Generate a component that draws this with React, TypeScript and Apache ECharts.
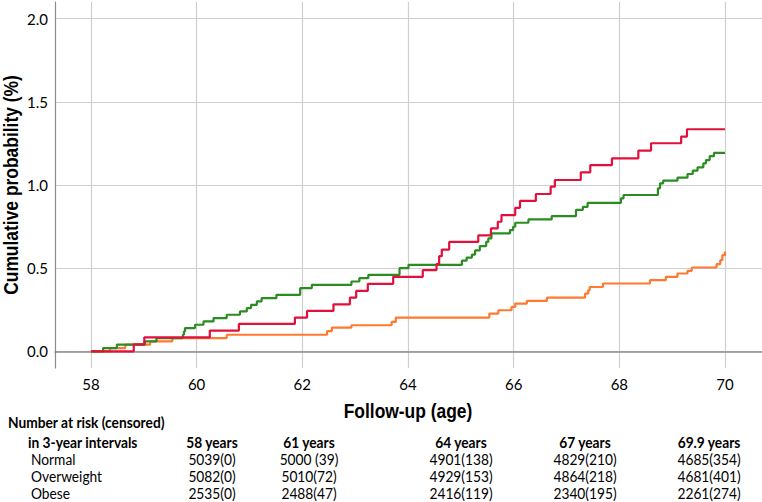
import React, { useEffect, useRef } from "react";
import * as echarts from "echarts";

// ---- Data ----
const redAges = [58.0, 58.81, 59.01, 60.25, 60.8, 61.86, 62.09, 62.59, 62.9, 63.02, 63.24, 63.72, 64.28, 64.54, 64.59, 64.64, 64.78, 65.33, 65.57, 65.7, 65.77, 66.03, 66.12, 66.42, 66.7, 66.78, 67.27, 67.45, 67.86, 68.36, 68.6, 69.17, 69.28, 70.0];
const redValues = [0, 0.042, 0.084, 0.125, 0.165, 0.203, 0.243, 0.283, 0.323, 0.363, 0.406, 0.448, 0.488, 0.524, 0.572, 0.612, 0.658, 0.697, 0.739, 0.779, 0.819, 0.863, 0.904, 0.946, 0.99, 1.03, 1.076, 1.12, 1.16, 1.207, 1.251, 1.291, 1.335, 1.335];

const greenAges = [58.0, 58.23, 58.49, 59.02, 59.24, 59.74, 59.76, 59.78, 59.97, 60.13, 60.32, 60.57, 60.82, 60.95, 61.03, 61.14, 61.23, 61.51, 61.96, 62.18, 62.93, 63.08, 63.25, 63.84, 64.01, 65.02, 65.11, 65.21, 65.27, 65.36, 65.48, 65.52, 65.58, 65.93, 65.99, 66.03, 66.28, 66.72, 67.18, 67.31, 67.4, 68.03, 68.08, 68.73, 68.77, 68.83, 69.1, 69.29, 69.39, 69.48, 69.59, 69.64, 69.71, 69.79, 70.0];
const greenValues = [0, 0.02, 0.04, 0.06, 0.08, 0.1, 0.12, 0.14, 0.16, 0.18, 0.2, 0.22, 0.24, 0.26, 0.28, 0.3, 0.32, 0.34, 0.38, 0.4, 0.42, 0.44, 0.46, 0.5, 0.52, 0.545, 0.564, 0.582, 0.607, 0.633, 0.658, 0.679, 0.709, 0.729, 0.749, 0.773, 0.793, 0.813, 0.851, 0.869, 0.893, 0.92, 0.94, 0.98, 1.01, 1.026, 1.044, 1.066, 1.086, 1.106, 1.13, 1.15, 1.173, 1.193, 1.193];

const orangeAges = [58.0, 58.36, 58.65, 59.12, 59.54, 60.57, 62.47, 62.56, 62.93, 63.69, 63.77, 65.54, 65.71, 65.96, 66.03, 66.25, 66.63, 67.35, 67.41, 67.44, 67.69, 68.58, 68.88, 69.1, 69.29, 69.37, 69.84, 69.91, 69.95, 70.0];
const orangeValues = [0, 0.02, 0.04, 0.06, 0.08, 0.1, 0.122, 0.143, 0.157, 0.177, 0.203, 0.227, 0.247, 0.267, 0.287, 0.303, 0.323, 0.347, 0.367, 0.387, 0.408, 0.428, 0.448, 0.468, 0.484, 0.504, 0.524, 0.548, 0.578, 0.6];

const riskTitle = ["Number at risk (censored)", "in 3-year intervals"];
const riskTimepoints = ["58 years", "61 years", "64 years", "67 years", "69.9 years"];
const riskGroups = ["Normal", "Overweight", "Obese"];
const riskNormal = ["5039(0)", "5000 (39)", "4901(138)", "4829(210)", "4685(354)"];
const riskOverweight = ["5082(0)", "5010(72)", "4929(153)", "4864(218)", "4681(401)"];
const riskObese = ["2535(0)", "2488(47)", "2416(119)", "2340(195)", "2261(274)"];

const xAxisTitle = "Follow-up (age)";
const yAxisTitle = "Cumulative probability (%)";

// ---- Layout / style ----
const COL_X = [212, 309, 461, 585, 709];
const ROW_Y = [422, 442, 458.5, 475.5, 492.5];
const TABLE_FONT = "Lato, 'Open Sans', sans-serif";
const TITLE_FONT = "'Liberation Sans', Arial, sans-serif";
const NARROW = 0.83;
const TABLE_SQUEEZE = 0.86;

function zip(a: number[], b: number[]) {
  return a.map((x, i) => [x, b[i]]);
}

export default function App() {
  const ref = useRef<HTMLDivElement>(null);

  useEffect(() => {
    if (!ref.current) return;
    const chart = echarts.init(ref.current, undefined, { renderer: "svg" });

    const graphics: any[] = [];
    const txt = (text: string, x: number, y: number, align: string, bold: boolean) => ({
      type: "text",
      x,
      y,
      scaleX: TABLE_SQUEEZE,
      silent: true,
      style: {
        text,
        fill: "#000",
        fontFamily: TABLE_FONT,
        fontSize: 16,
        fontWeight: bold ? "bold" : "normal",
        align,
        verticalAlign: "middle",
      },
    });
    graphics.push(txt(riskTitle[0], 8, ROW_Y[0], "left", true));
    graphics.push(txt(riskTitle[1], 28, ROW_Y[1], "left", true));
    riskTimepoints.forEach((t, i) => graphics.push(txt(t, COL_X[i], ROW_Y[1], "center", true)));
    const rows = [riskNormal, riskOverweight, riskObese];
    riskGroups.forEach((g, r) => {
      graphics.push(txt(g, 31, ROW_Y[2 + r], "left", false));
      rows[r].forEach((v, i) => graphics.push(txt(v, COL_X[i], ROW_Y[2 + r], "center", false)));
    });

    // axis titles (condensed bold)
    graphics.push({
      type: "text",
      x: 408,
      y: 411,
      scaleX: NARROW,
      silent: true,
      style: {
        text: xAxisTitle,
        fill: "#000",
        fontFamily: TITLE_FONT,
        fontSize: 21,
        fontWeight: "bold",
        align: "center",
        verticalAlign: "middle",
      },
    });
    graphics.push({
      type: "text",
      x: 11,
      y: 185,
      rotation: Math.PI / 2,
      scaleX: NARROW,
      silent: true,
      style: {
        text: yAxisTitle,
        fill: "#000",
        fontFamily: TITLE_FONT,
        fontSize: 21,
        fontWeight: "bold",
        align: "center",
        verticalAlign: "middle",
      },
    });

    const lineSeries = (name: string, data: number[][], color: string) => ({
      name,
      type: "line",
      step: "end",
      data,
      showSymbol: false,
      symbol: "none",
      lineStyle: { color, width: 2.2 },
      itemStyle: { color },
      emphasis: { disabled: true },
    });

    chart.setOption({
      animation: false,
      grid: { left: 55, right: 0, top: 2, bottom: 134 },
      xAxis: {
        type: "value",
        min: 57.32,
        max: 70.7,
        minInterval: 2,
        maxInterval: 2,
        axisLine: { show: true, lineStyle: { color: "#8c8c8c", width: 1.5 } },
        axisTick: { show: false },
        axisLabel: {
          showMinLabel: false,
          showMaxLabel: false,
          margin: 8,
          color: "#000",
          fontFamily: TABLE_FONT,
          fontSize: 15,
          formatter: (v: number) => String(Math.round(v)),
        },
        splitLine: { show: true, showMinLine: false, showMaxLine: false, lineStyle: { color: "#cfcfcf", width: 1.2 } },
      },
      yAxis: {
        type: "value",
        min: -0.1,
        max: 2.1,
        minInterval: 0.5,
        maxInterval: 0.5,
        axisLine: { show: true, lineStyle: { color: "#8c8c8c", width: 1.2 } },
        axisTick: { show: false },
        axisLabel: {
          showMinLabel: false,
          showMaxLabel: false,
          margin: 7,
          color: "#000",
          fontFamily: TABLE_FONT,
          fontSize: 15,
          formatter: (v: number) => v.toFixed(1),
        },
        splitLine: { show: true, showMinLine: false, showMaxLine: false, lineStyle: { color: "#cfcfcf", width: 1.2 } },
      },
      series: [
        lineSeries("Orange curve", zip(orangeAges, orangeValues), "#FF7A30"),
        lineSeries("Green curve", zip(greenAges, greenValues), "#2B8C22"),
        lineSeries("Red curve", zip(redAges, redValues), "#E2103C"),
      ],
      graphic: graphics,
    });

    return () => chart.dispose();
  }, []);

  return (
    <div
      ref={ref}
      style={{ position: "fixed", left: 0, top: 0, width: 762, height: 502, background: "#fff" }}
    />
  );
}
